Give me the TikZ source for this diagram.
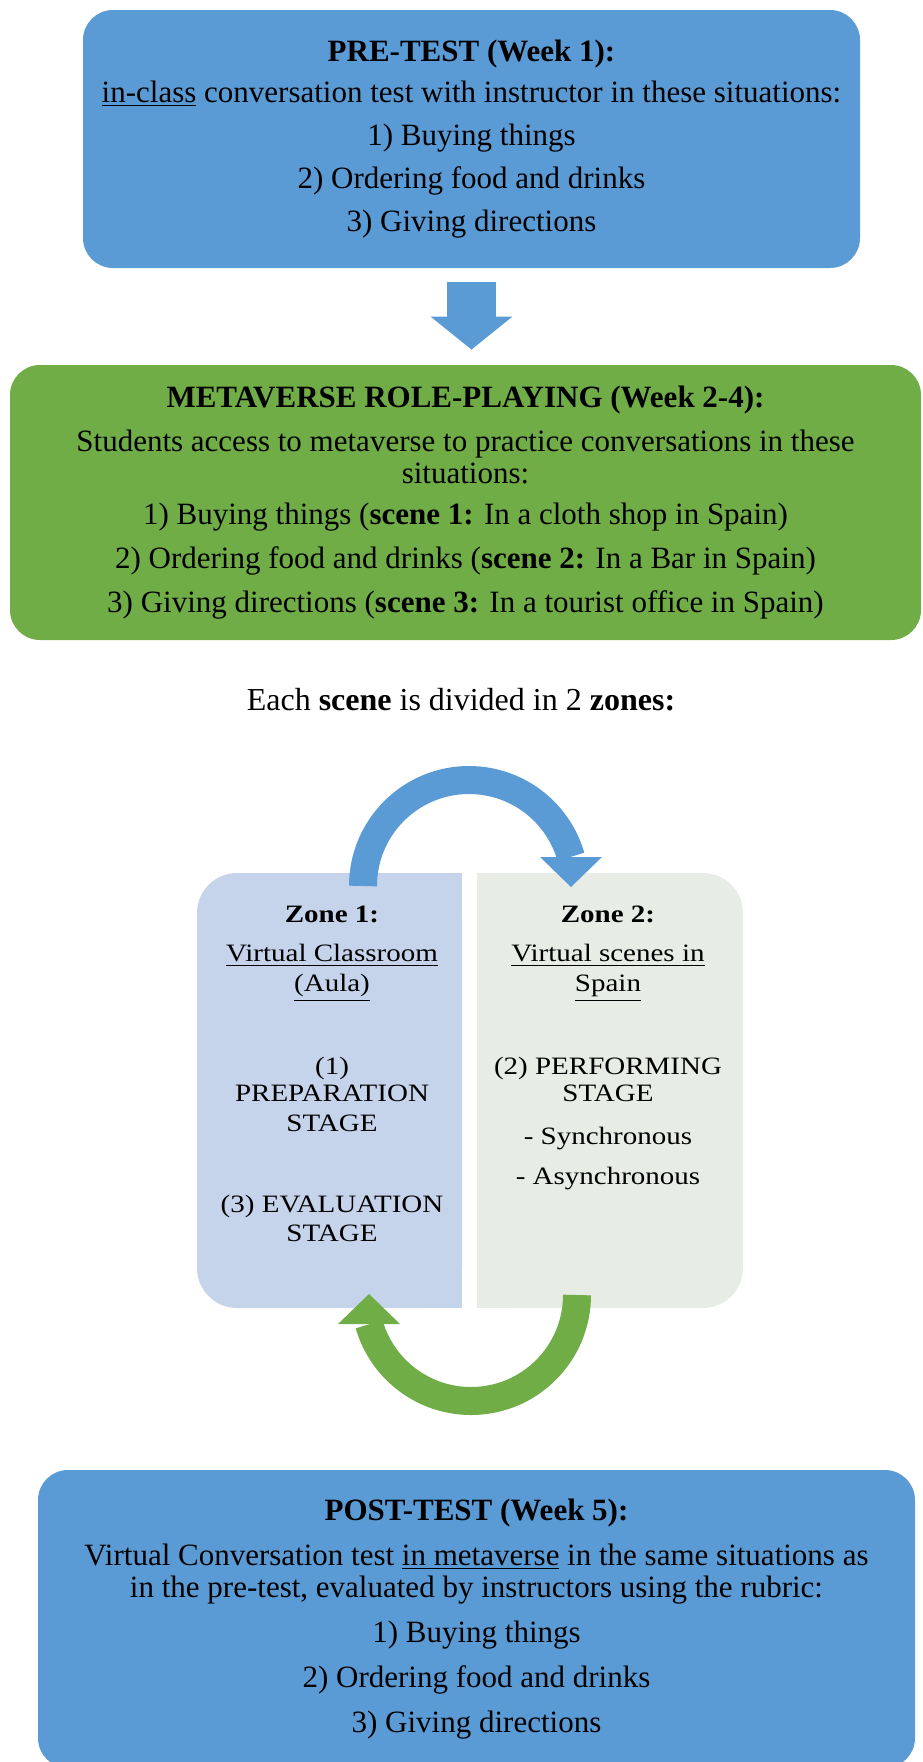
\documentclass[tikz,border=0pt]{standalone}
\usepackage{fontspec}
\setmainfont{Liberation Serif}
\newfontfamily\zonefont[FakeStretch=1.16]{Liberation Serif}
\usetikzlibrary{calc}
\usetikzlibrary{arrows.meta}
\definecolor{stepblue}{HTML}{5B9BD5}
\definecolor{stepgreen}{HTML}{70AD47}
\definecolor{zoneblue}{HTML}{C5D4EB}
\definecolor{zonegrey}{HTML}{E7EDE4}
\tikzstyle{stagebox}=[rounded corners=15pt, inner sep=0pt, align=center]
\tikzstyle{zonetext}=[align=center, anchor=north, inner sep=0pt, font=\zonefont\fontsize{12.5}{14.25}\selectfont]
\tikzstyle{bigarrow}=[line width=24.5pt, stepblue, shorten <=7pt, shorten >=7.5pt, -{Triangle[width=40pt,length=16.5pt]}]
\tikzstyle{cyclearrow}=[line width=14pt]
\pgfmathsetmacro{\cycler}{53}
\newcommand{\drawhead}[3]{
% #1 colour, #2 middle of the base, #3 offset of the tip
\fill[#1] ($(#2)+(-31,0)$) -- ($(#2)+(31,0)$) -- ($(#2)+(0,#3)$) -- cycle;
}

\begin{document}
\begin{tikzpicture}[x=0.5pt,y=-0.5pt]
  \useasboundingbox (0,0) rectangle (922,1762);
  % the three phases
  \node[stagebox, fill=stepblue, minimum width=388.5pt, minimum height=129pt,
        font=\fontsize{15.5}{21.5}\selectfont] (pre) at (471.5,139)
    {\textbf{PRE-TEST (Week 1):}\\[-1pt]
     \underline{in-class} conversation test with instructor in these situations:\\
     1) Buying things\\ 2) Ordering food and drinks\\ 3) Giving directions};
  \node[stagebox, fill=stepgreen, minimum width=455.5pt, minimum height=137.5pt,
        font=\fontsize{15.5}{21.5}\selectfont] (meta) at (465.5,502.5)
    {\textbf{METAVERSE ROLE-PLAYING (Week 2-4):}\\[0.5pt]
     Students access to metaverse to practice conversations in these\\[-5.5pt]
     situations:\\[-1pt]
     1) Buying things (\textbf{scene 1:} In a cloth shop in Spain)\\[0.5pt]
     2) Ordering food and drinks (\textbf{scene 2:} In a Bar in Spain)\\[0.5pt]
     3) Giving directions (\textbf{scene 3:} In a tourist office in Spain)};
  \node[stagebox, fill=stepblue, minimum width=438.5pt, minimum height=149pt,
        font=\fontsize{15.5}{22.5}\selectfont] (post) at (476.5,1619)
    {\textbf{POST-TEST (Week 5):}\\
     Virtual Conversation test \underline{in metaverse} in the same situations as\\[-6.5pt]
     in the pre-test, evaluated by instructors using the rubric:\\
     1) Buying things\\ 2) Ordering food and drinks\\ 3) Giving directions};
  \draw[bigarrow] (pre.south) -- (pre.south |- meta.north);
  \node[anchor=base, inner sep=0pt, font=\fontsize{16}{19}\selectfont] (scenes) at (461,710)
    {Each \textbf{scene} is divided in 2 \textbf{zones:}};

  % zones
  \fill[zoneblue] (330,873) rectangle (462,1308);
  \fill[zoneblue, rounded corners=20pt] (197,873) rectangle (462,1308);
  \fill[zonegrey] (477,873) rectangle (610,1308);
  \fill[zonegrey, rounded corners=20pt] (477,873) rectangle (743,1308);
  \node[zonetext] (zone1) at (332,906)
    {\textbf{Zone 1:}\\[5.25pt]
     \underline{Virtual Classroom}\\[0.75pt]
     \underline{(Aula)}\\[27.25pt]
     (1)\\[-0.75pt]
     PREPARATION\\[0.75pt]
     STAGE\\[26.25pt]
     (3) EVALUATION\\[0.25pt]
     STAGE};
  \node[zonetext] (zone2) at (608,906)
    {\textbf{Zone 2:}\\[5.25pt]
     \underline{Virtual scenes in}\\[0.75pt]
     \underline{Spain}\\[27.25pt]
     (2) PERFORMING\\[-0.75pt]
     STAGE\\[7.25pt]
     - Synchronous\\[5.75pt]
     - Asynchronous};

  % turning arrows
  \coordinate (zone1top) at (363,886);
  \coordinate (zone2top) at (571,857);
  \coordinate (zone2bot) at (577,1295);
  \coordinate (zone1bot) at (369,1324);
  \draw[cyclearrow, stepblue] (zone1top) arc[start angle=180, end angle=16, radius=\cycler pt];
  \drawhead{stepblue}{zone2top}{30}
  \draw[cyclearrow, stepgreen] (zone2bot) arc[start angle=0, end angle=-164, radius=\cycler pt];
  \drawhead{stepgreen}{zone1bot}{-30}
\end{tikzpicture}
\end{document}
